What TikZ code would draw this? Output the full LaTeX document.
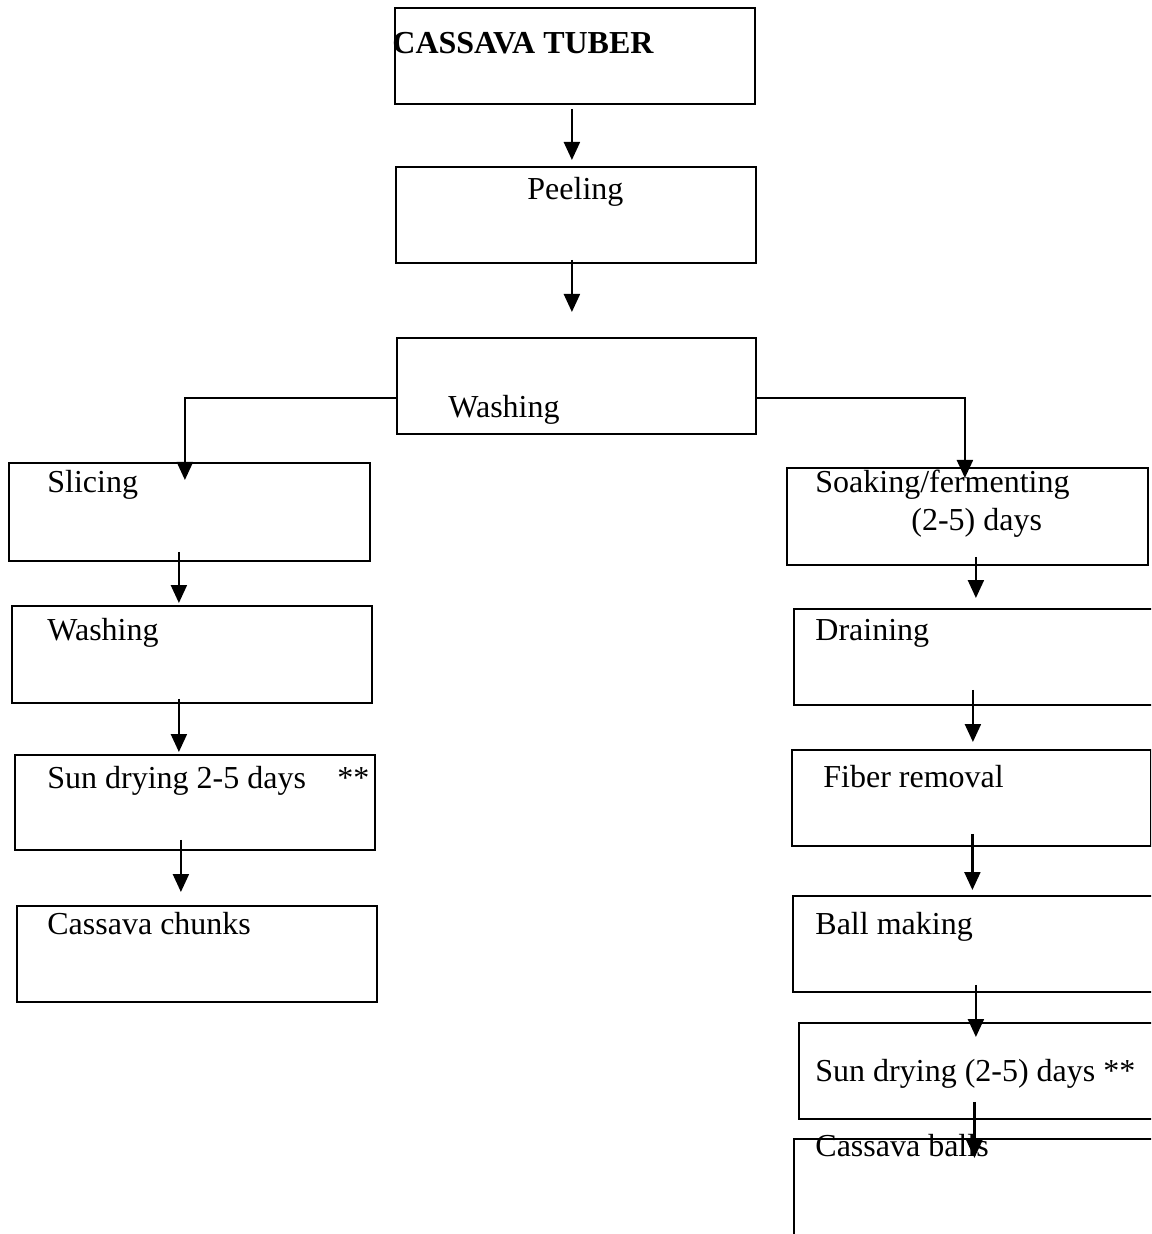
\documentclass[tikz,border=0pt]{standalone}
\usepackage{fontspec}
\setmainfont{Liberation Serif}
\usetikzlibrary{arrows.meta}
\begin{document}
\begin{tikzpicture}[x=0.5pt,y=-0.5pt,
  box/.style={draw, line width=0.9pt, inner sep=0pt, anchor=north west},
  lbl/.style={anchor=west, inner sep=0pt, font=\fontsize{16pt}{19pt}\selectfont, text height=11.2pt, text depth=3.2pt},
  arr/.style={line width=1.1pt, -{Triangle[width=8pt,length=9pt]}}]
\clip (0,0) rectangle (1151,1234);
\fill[white] (0,0) rectangle (1151,1234);
% boxes
\node[box, minimum width=180pt, minimum height=48pt] (tuber) at (394,7) {};
\node[box, minimum width=180pt, minimum height=48pt] (peel) at (395,166) {};
\node[box, minimum width=179.5pt, minimum height=48pt] (wash) at (396,337) {};
\node[box, minimum width=180.5pt, minimum height=49pt] (slice) at (8,462) {};
\node[box, minimum width=180pt, minimum height=48.5pt] (washL) at (11,605) {};
\node[box, minimum width=180pt, minimum height=47.5pt] (sunL) at (14,754) {};
\node[box, minimum width=180pt, minimum height=48pt] (chunks) at (16,905) {};
\node[box, minimum width=180.5pt, minimum height=48.5pt] (soak) at (786,467) {};
\node[box, minimum width=181pt, minimum height=48pt] (drain) at (793,608) {};
\node[box, minimum width=179.5pt, minimum height=48pt] (fiber) at (791,749) {};
\node[box, minimum width=181pt, minimum height=48pt] (ball) at (792,895) {};
\node[box, minimum width=178.5pt, minimum height=48pt] (sunR) at (798,1022) {};
\node[box, minimum width=181pt, minimum height=50pt] (balls) at (793,1138) {};
% labels
\node[lbl, font=\fontsize{16pt}{19pt}\selectfont\bfseries] (tTuber) at (392,46) {CASSAVA TUBER};
\node[lbl] (tPeel) at (527,192) {Peeling};
\node[lbl] (tWash) at (448,410) {Washing};
\node[lbl] (tSlice) at (47,485) {Slicing};
\node[lbl] (tWashL) at (47,632) {Washing};
\node[lbl] (tSunL) at (47,780) {Sun drying 2-5 days};
\node[lbl] (tStarL) at (337,780) {**};
\node[lbl] (tChunks) at (47,926) {Cassava chunks};
\node[lbl] (tSoakA) at (815,485) {Soaking/fermenting};
\node[lbl] (tSoakB) at (911,522) {(2-5) days};
\node[lbl] (tDrain) at (815,632) {Draining};
\node[lbl] (tFiber) at (823,779) {Fiber removal};
\node[lbl] (tBall) at (815,926) {Ball making};
\node[lbl] (tSunR) at (815,1073) {Sun drying (2-5) days **};
\node[lbl] (tBalls) at (815,1148) {Cassava balls};
% connectors
\draw[arr] ([shift={(-3,4)}]tuber.south) -- ([shift={(-3,-6)}]tuber.south |- peel.north);
\draw[arr] ([shift={(-4,-4)}]peel.south) -- ([shift={(-4,-25)}]peel.south |- wash.north);
\draw[arr] ([shift={(0,12)}]wash.west) -| ([shift={(-4.5,18)}]slice.north);
\draw[arr] ([shift={(0,12)}]wash.east) -| ([shift={(-2.5,11)}]soak.north);
\draw[arr] ([shift={(-10.5,-10)}]slice.south) -- ([shift={(-10.5,-2)}]slice.south |- washL.north);
\draw[arr] ([shift={(-13,-5)}]washL.south) -- ([shift={(-13,-2)}]washL.south |- sunL.north);
\draw[arr] ([shift={(-14,-11)}]sunL.south) -- ([shift={(-14,-13)}]sunL.south |- chunks.north);
\draw[arr] ([shift={(8.5,-9)}]soak.south) -- ([shift={(8.5,-10)}]soak.south |- drain.north);
\draw[arr] ([shift={(-2,-16)}]drain.south) -- ([shift={(-2,-7)}]drain.south |- fiber.north);
\draw[arr] ([shift={(1,-13)}]fiber.south) -- ([shift={(1,-5)}]fiber.south |- ball.north);
\draw[arr] ([shift={(2,-8)}]ball.south) -- ([shift={(2,15)}]ball.south |- sunR.north);
\draw[arr] ([shift={(-3,-18)}]sunR.south) -- ([shift={(-3,20)}]sunR.south |- balls.north);
\end{tikzpicture}
\end{document}
